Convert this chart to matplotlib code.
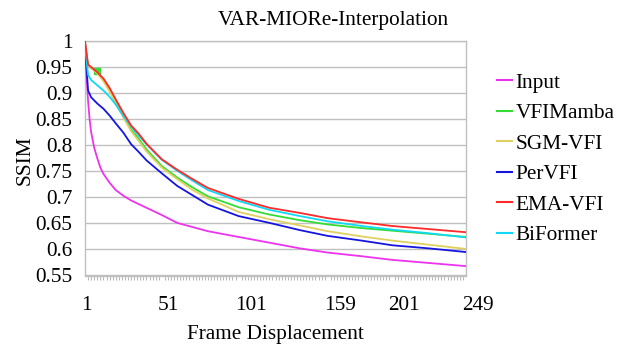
import matplotlib
matplotlib.use("Agg")
import matplotlib.pyplot as plt
import matplotlib.transforms as mtransforms
import numpy as np

plt.rcParams['font.family'] = ['Liberation Serif', 'DejaVu Serif']

frames = [1, 3, 5, 9, 13, 17, 21, 26, 31, 36, 41, 51, 61, 71, 81, 101, 121, 141, 159, 181, 201, 225, 249]
input_frames = [1, 2, 3, 4, 5, 7, 9, 11, 13, 17, 21, 26, 31, 36, 41, 51, 61, 71, 81, 101, 121, 141, 159, 181, 201, 225, 249]

input_ssim = [1.0, 0.935, 0.885, 0.85, 0.825, 0.795, 0.775, 0.757, 0.745, 0.728, 0.714, 0.703, 0.694, 0.687,
              0.680, 0.666, 0.651, 0.643, 0.635, 0.624, 0.613, 0.602, 0.594, 0.587, 0.580, 0.574, 0.568]
vfimamba = [0.995, 0.952, 0.948, 0.942, 0.925, 0.906, 0.884, 0.856, 0.830, 0.812, 0.792, 0.760, 0.738, 0.719,
            0.702, 0.681, 0.667, 0.656, 0.648, 0.641, 0.636, 0.630, 0.624]
sgmvfi = [0.995, 0.952, 0.948, 0.938, 0.923, 0.903, 0.880, 0.853, 0.827, 0.808, 0.788, 0.757, 0.735, 0.714,
          0.698, 0.672, 0.658, 0.646, 0.635, 0.625, 0.617, 0.609, 0.601]
pervfi = [0.99, 0.905, 0.892, 0.880, 0.870, 0.857, 0.842, 0.824, 0.802, 0.787, 0.771, 0.746, 0.722, 0.704,
          0.686, 0.664, 0.651, 0.637, 0.626, 0.617, 0.608, 0.602, 0.595]
emavfi = [1.0, 0.955, 0.950, 0.940, 0.928, 0.910, 0.888, 0.862, 0.838, 0.822, 0.803, 0.773, 0.753, 0.735,
          0.718, 0.697, 0.680, 0.670, 0.660, 0.652, 0.645, 0.639, 0.633]
biformer = [0.99, 0.935, 0.925, 0.915, 0.905, 0.893, 0.878, 0.856, 0.836, 0.818, 0.802, 0.772, 0.751, 0.732,
            0.714, 0.693, 0.676, 0.664, 0.654, 0.645, 0.638, 0.631, 0.623]

x_ticks = [1, 51, 101, 159, 201, 249]
y_ticks = [0.55, 0.6, 0.65, 0.7, 0.75, 0.8, 0.85, 0.9, 0.95, 1.0]
y_tick_labels = ['0.55', '0.6', '0.65', '0.7', '0.75', '0.8', '0.85', '0.9', '0.95', '1']

W, H = 617, 345
fig = plt.figure(figsize=(W / 100, H / 100), dpi=100)
ax = fig.add_axes([85 / W, 1 - 275.5 / H, (466 - 85) / W, (275.5 - 41) / H])

fs = 15.3
lw = 1.3
ax.plot(input_frames, input_ssim, color='#EE33EE', lw=lw, label='Input', zorder=3)
ax.plot(frames, vfimamba, color='#33DD33', lw=lw, label='VFIMamba', zorder=3,
        marker='s', markersize=4.5, markevery=[3])
ax.plot(frames, sgmvfi, color='#E0D060', lw=lw, label='SGM-VFI', zorder=3)
ax.plot(frames, pervfi, color='#1515E0', lw=lw, label='PerVFI', zorder=3)
ax.plot(frames, emavfi, color='#FF2A2A', lw=lw, label='EMA-VFI', zorder=4)
ax.plot(frames, biformer, color='#11D8F5', lw=lw, label='BiFormer', zorder=3)

ax.set_xlim(1, 249)
ax.set_ylim(0.55, 1.0)
ax.set_yticks(y_ticks)
ax.set_yticklabels(y_tick_labels, fontsize=fs)
ax.tick_params(axis='y', length=0, pad=9)
ax.yaxis.grid(True, color='#C0C0C0', lw=1.0)
ax.set_axisbelow(True)

ax.set_xticks(x_ticks)
ax.set_xticklabels([str(t) for t in x_ticks], fontsize=fs)
ax.set_xticks(np.arange(1, 250, 2), minor=True)
ax.tick_params(axis='x', which='major', length=0, pad=15)
ax.tick_params(axis='x', which='minor', length=3, color='#BBBBBB', direction='out', width=0.8)
offset = mtransforms.ScaledTranslation(-4 / 100, 0, fig.dpi_scale_trans)
for lab in ax.get_xticklabels():
    lab.set_horizontalalignment('left')
    lab.set_transform(lab.get_transform() + offset)

for s in ['left', 'right', 'bottom', 'top']:
    ax.spines[s].set_color('#C0C0C0')
    ax.spines[s].set_linewidth(1.0)

fig.text(25 / W, 1 - 160 / H, 'SSIM', fontsize=fs, rotation=90, ha='center', va='center')
fig.text(275 / W, 1 - 334 / H, 'Frame Displacement', fontsize=fs, ha='center', va='center')
fig.text(333.5 / W, 1 - 20 / H, 'VAR-MIORe-Interpolation', fontsize=fs, ha='center', va='center')

leg = fig.legend(loc='upper left', bbox_to_anchor=(497 / W, 1 - 73 / H), frameon=False,
                 fontsize=fs, handlelength=0.72, handletextpad=0.15, labelspacing=0.5,
                 borderpad=0, borderaxespad=0)
for h in leg.legend_handles:
    h.set_marker('')
    h.set_linewidth(1.5)

fig.savefig('out.png', dpi=100)
